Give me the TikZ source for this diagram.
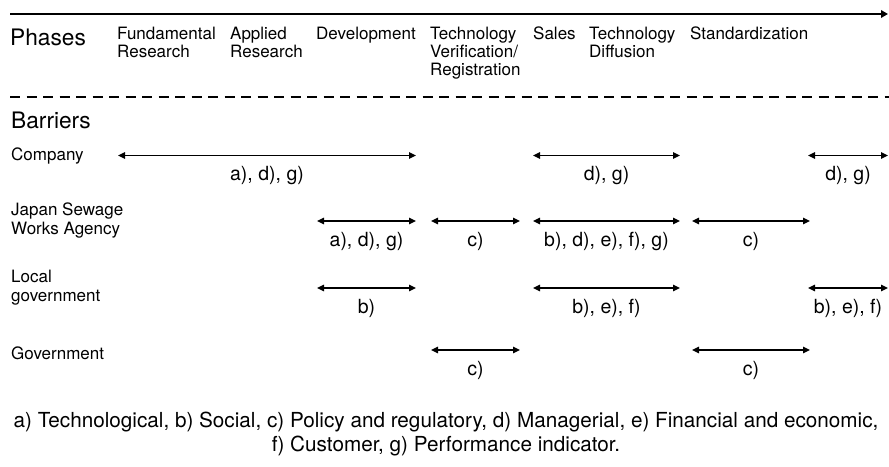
\documentclass[tikz,border=0pt]{standalone}
\usepackage{fontspec}
\setmainfont{TeX Gyre Heros}
\usetikzlibrary{arrows.meta}

\tikzset{
  head/.style={font=\fontsize{22.7}{24}\selectfont, inner sep=0pt, anchor=base west},
  phase/.style={font=\fontsize{17}{18}\selectfont, inner sep=0pt, anchor=base west, align=left},
  actor/.style={font=\fontsize{17}{18.5}\selectfont, inner sep=0pt, anchor=base west, align=left},
  lab/.style={font=\fontsize{19.5}{21}\selectfont, inner sep=0pt, below=10.5pt},
  barrier/.style={<->, line width=1.3pt},
}

\begin{document}
\begin{tikzpicture}[x=1pt, y=-1pt, >={Triangle[length=7pt,width=6.5pt]}]
\useasboundingbox (0,0) rectangle (889,466);

% time axis and phases (base = last line)
\coordinate (t-l) at (10,14);
\coordinate (t-r) at (888,14);
\draw[line width=2.3pt, -{Triangle[length=7pt,width=7.5pt]}] (t-l) -- (t-r);

\node[head] (phases) at (10,45) {Phases};
\node[phase] (p1) at (117,57.5) {Fundamental\\Research};
\node[phase] (p2) at (230,57.5) {Applied\\Research};
\node[phase] (p3) at (316,39.5) {Development};
\node[phase] (p4) at (430,75.5) {Technology\\Verification/\\Registration};
\node[phase] (p5) at (533,39.5) {Sales};
\node[phase] (p6) at (589,57.5) {Technology\\Diffusion};
\node[phase] (p7) at (690,39.5) {Standardization};

\coordinate (d-l) at (10,97);
\coordinate (d-r) at (889,97);
\draw[line width=1.6pt, dash pattern=on 10pt off 6.5pt] (d-l) -- (d-r);

% barriers
\node[head] (barriers) at (11,128.5) {Barriers};
\node[actor] (company) at (11,160.5) {Company};
\node[actor] (jswa) at (11,234) {Japan Sewage\\Works Agency};
\node[actor] (local) at (11,301) {Local\\government};
\node[actor] (gov) at (11,359) {Government};

% company
\coordinate (c1) at (118,155.5);
\coordinate (c2) at (416,155.5);
\coordinate (c3) at (533,155.5);
\coordinate (c4) at (680,155.5);
\coordinate (c5) at (808,155.5);
\coordinate (c6) at (888,155.5);
% japan sewage works agency
\coordinate (j1) at (317,221);
\coordinate (j2) at (416,221);
\coordinate (j3) at (431,221);
\coordinate (j4) at (520,221);
\coordinate (j5) at (533,221);
\coordinate (j6) at (680,221);
\coordinate (j7) at (692,221);
\coordinate (j8) at (810,221);
% local government
\coordinate (l1) at (317,288);
\coordinate (l2) at (416,288);
\coordinate (l3) at (533,288);
\coordinate (l4) at (680,288);
\coordinate (l5) at (808,288);
\coordinate (l6) at (888,288);
% government
\coordinate (g1) at (431,350);
\coordinate (g2) at (520,350);
\coordinate (g3) at (692,350);
\coordinate (g4) at (810,350);

\path[barrier]
(c1) edge node [lab] {a), d), g)} (c2)
(c3) edge node [lab] {d), g)} (c4)
(c5) edge node [lab] {d), g)} (c6)
(j1) edge node [lab] {a), d), g)} (j2)
(j3) edge node [lab] {c)} (j4)
(j5) edge node [lab] {b), d), e), f), g)} (j6)
(j7) edge node [lab] {c)} (j8)
(l1) edge node [lab] {b)} (l2)
(l3) edge node [lab] {b), e), f)} (l4)
(l5) edge node [lab] {b), e), f)} (l6)
(g1) edge node [lab] {c)} (g2)
(g3) edge node [lab] {c)} (g4)
;

% legend
\node[font=\fontsize{20.7}{24.5}\selectfont, inner sep=0pt, align=center, anchor=base] (legend) at (446,451.5)
{a) Technological, b) Social, c) Policy and regulatory, d) Managerial, e) Financial and economic,\\
f) Customer, g) Performance indicator.};
\end{tikzpicture}
\end{document}
